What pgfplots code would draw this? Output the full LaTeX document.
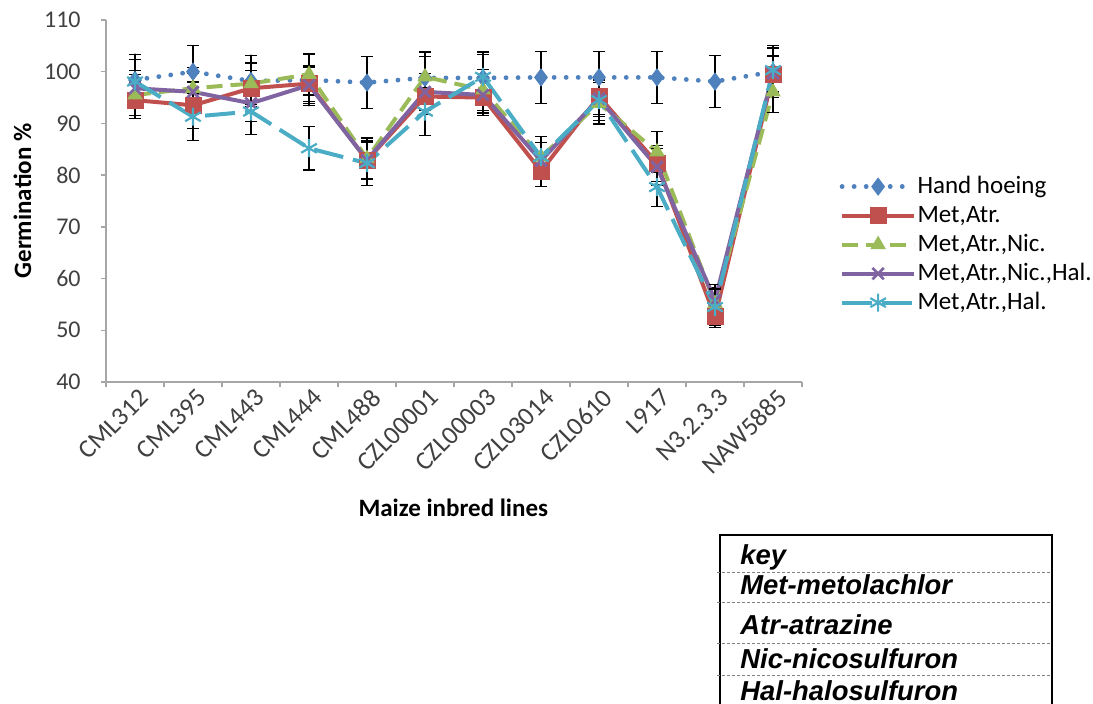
\documentclass[border=0pt]{standalone}
\usepackage{pgfplots}
\pgfplotsset{compat=1.18}
\usepackage{pgfplotstable}
\usepackage{fontspec}
\setmainfont{Carlito}
\newfontfamily\keyfont{Liberation Sans}
\definecolor{cblue}{HTML}{4F81BD}
\definecolor{cred}{HTML}{C0504D}
\definecolor{cgreen}{HTML}{9BBB59}
\definecolor{cpurple}{HTML}{8064A2}
\definecolor{ccyan}{HTML}{4BACC6}
\definecolor{axgray}{HTML}{A6A6A6}
\definecolor{txgray}{HTML}{404040}

\pgfplotstableread{
x hh hhe ma mae man mane manh manhe mah mahe
0  98.4 5 94.5 3.5 95.5 4 96.8 3.5 98.1 4.3
1  100  5 93.5 4.5 96.8 4 96.1 3.5 91.3 4.6
2  98.2 5 96.8 3.5 97.7 4 93.9 3.5 92.3 4.5
3  98.4 5 97.7 3.5 99.5 4 97.4 3.5 85.2 4.2
4  97.9 5 82.9 3.5 83.2 4 82.9 3.5 82.3 4.3
5  98.8 5 95.2 3.5 99.0 4 96.1 3.5 92.3 4.7
6  98.8 5 95.0 3.5 96.5 4 95.5 3.5 99.0 4.3
7  98.9 5 80.8 3.0 83.5 4 82.8 3.5 83.5 4.0
8  98.9 5 95.2 3.5 93.9 4 94.8 3.5 94.5 4.0
9  98.9 5 82.3 3.5 84.5 4 81.6 3.5 77.7 3.8
10 98.1 5 52.6 2.0 55.2 3 55.8 3.0 54.5 3.5
11 100  5 99.4 3.5 96.1 4 99.7 3.5 100.3 4.3
}\data

\begin{document}
\begin{tikzpicture}[x=1pt,y=1pt]
\useasboundingbox (0,0) rectangle (546.5,352);
\begin{axis}[
  at={(53pt,161pt)}, anchor=south west,
  scale only axis, width=348pt, height=181pt,
  xmin=-0.5, xmax=11.5, ymin=40, ymax=110,
  axis x line*=bottom, axis y line*=left,
  axis line style={axgray, line width=0.9pt},
  ytick={40,50,...,110},
  xtick={0,...,11},
  xticklabels={CML312,CML395,CML443,CML444,CML488,CZL00001,CZL00003,CZL03014,CZL0610,L917,N3.2.3.3,NAW5885},
  major x tick style={draw=none},
  minor xtick={-0.5,0.5,...,11.5},
  tick align=outside, major tick length=2.5pt, minor tick length=2.5pt,
  tick style={color=axgray, line width=0.7pt},
  /pgf/number format/assume math mode=true,
  xticklabel style={rotate=45, anchor=north east, inner sep=1pt, xshift=2pt, text=txgray, font=\fontsize{13}{15}\selectfont},
  yticklabel style={text=txgray, font=\fontsize{12}{14}\selectfont, inner sep=1pt, xshift=-9pt},
  xlabel={\bfseries Maize inbred lines},
  xlabel style={at={(axis description cs:0.499,-0.348)}, anchor=center, font=\fontsize{12.5}{14}\selectfont},
  ylabel={\bfseries Germination \%},
  ylabel style={at={(axis description cs:-0.12,0.5)}, anchor=center, font=\fontsize{12.5}{14}\selectfont},
  legend style={at={(axis description cs:1.045,0.585)}, anchor=north west, draw=none, fill=none,
    font=\fontsize{12.5}{14}\selectfont, row sep=2.5pt,
    nodes={inner sep=0.5pt, text height=9pt, text depth=2pt}},
  legend cell align=left,
  legend image code/.code={\draw[mark repeat=2, mark phase=2, #1] plot coordinates {(0pt,0pt) (18pt,0pt) (36pt,0pt)};},
  every axis plot/.append style={line width=2pt},
  err/.style={error bars/.cd, y dir=both, y explicit,
    error bar style={black, line width=0.6pt, solid},
    error mark options={black, rotate=90, mark size=3pt, line width=0.6pt, solid}},
]
\addplot[color=cblue, line width=2.4pt, dash pattern=on 0.01pt off 6pt, line cap=round,
  mark=diamond*, mark size=4.2pt, mark options={solid, fill=cblue, line width=0.5pt}, err]
  table[x=x, y=hh, y error=hhe]{\data};
\addlegendentry{Hand hoeing}
\addplot[color=cred, mark=square*, mark size=4pt, mark options={solid, fill=cred, line width=0.5pt}, err]
  table[x=x, y=ma, y error=mae]{\data};
\addlegendentry{Met,Atr.}
\addplot[color=cgreen, dash pattern=on 8pt off 4pt, mark=triangle*, mark size=4pt, mark options={solid, fill=cgreen, line width=0.5pt}, err]
  table[x=x, y=man, y error=mane]{\data};
\addlegendentry{Met,Atr.,Nic.}
\addplot[color=cpurple, mark=x, mark size=4pt, mark options={solid, line width=1.4pt}, err]
  table[x=x, y=manh, y error=manhe]{\data};
\addlegendentry{Met,Atr.,Nic.,Hal.}
\addplot[color=ccyan, dash pattern=on 15pt off 5pt, mark=asterisk, mark size=4.5pt, mark options={solid, line width=1.1pt}, err]
  table[x=x, y=mah, y error=mahe]{\data};
\addlegendentry{Met,Atr.,Hal.}
\end{axis}
% key table
\draw[black, line width=0.7pt] (360,-3) -- (360,84.5) -- (526,84.5) -- (526,-3);
\foreach \yy in {66,51,30.5,14.5} \draw[gray, line width=0.4pt, dash pattern=on 1.5pt off 1pt] (358.5,\yy) -- (526,\yy);
\begin{scope}[every node/.style={anchor=base west, inner sep=0pt, font=\keyfont\bfseries\itshape\fontsize{13.7}{16}\selectfont}]
\node at (370,69.5) {key};
\node at (370,54.5) {Met-metolachlor};
\node at (370,34.5) {Atr-atrazine};
\node at (370,17.5) {Nic-nicosulfuron};
\node at (370,1.5) {Hal-halosulfuron};
\end{scope}
\end{tikzpicture}
\end{document}
